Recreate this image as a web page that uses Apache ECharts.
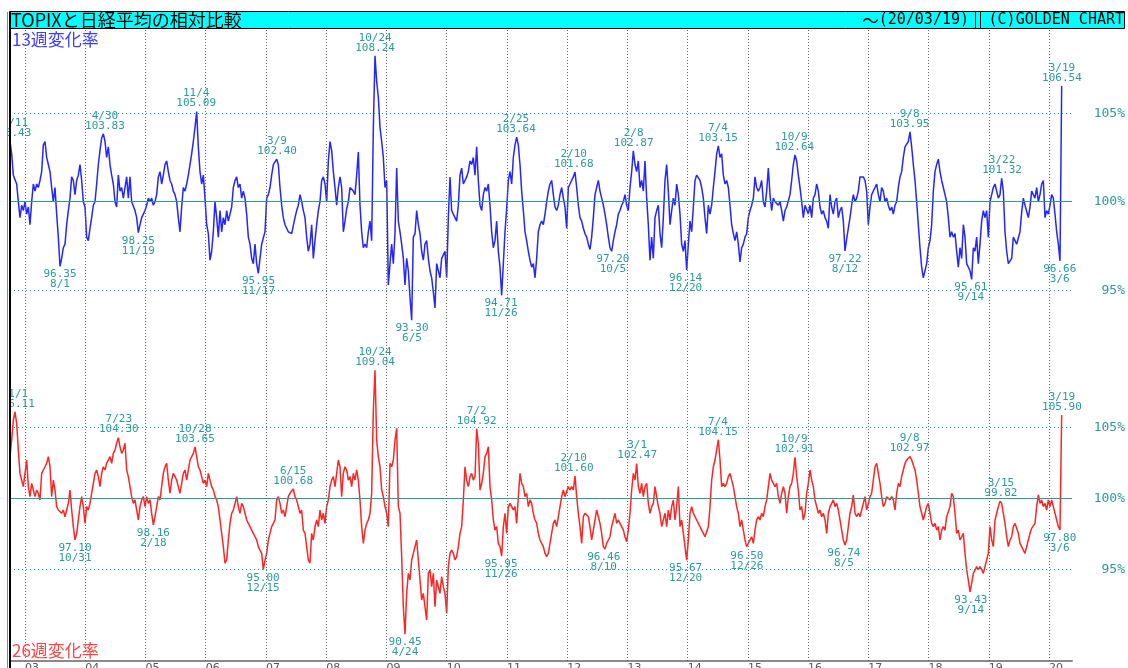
<!DOCTYPE html>
<html><head><meta charset="utf-8">
<script src="https://cdn.jsdelivr.net/npm/echarts@6/dist/echarts.min.js"></script>
<style>html,body{margin:0;padding:0;background:#fff;overflow:hidden}#c{width:1128px;height:668px}</style>
</head><body><div id="c"></div>
<script>
// sampling: first sample date (decimal year) and step between samples (~10 days)
const T0 = 2002.751;
const STEP = 0.0276671;
const X_MIN = 2002.751, X_MAX = 2020.3805;
const YEARS = [2003,2004,2005,2006,2007,2008,2009,2010,2011,2012,2013,2014,2015,2016,2017,2018,2019,2020];
const PCT_TICKS = [95,100,105];

// 13-week rate of change (%)
const TOP13_A = [
103.43,102.7,101.5,101.4,101.0,100.0,99.1,99.8,99.5,100.0,
99.3,99.7,98.7,100.0,101.0,100.6,101.0,100.8,101.2,101.7,
103.2,103.4,102.5,102.1,101.7,100.8,100.0,100.8,99.3,98.0,
96.35,96.8,97.4,97.6,98.7,99.5,100.2,101.4,101.2,100.4,
101.2,101.5,102.1,101.2,100.0,99.7,98.0,97.8,98.5,99.1,
99.8,100.0,101.0,102.1,102.9,103.6,103.83,103.4,102.5,103.1,
102.1,101.5,101.0,100.0,99.7,101.5,100.6,100.8,100.2,100.8,
101.4,100.2,101.4,100.0,100.0,99.5,99.1,98.25,98.7,99.1,
99.3,99.5,99.8,100.2,100.0,100.2,99.8,100.0,100.4,101.4,
101.7,101.0,101.5,102.1,102.3,101.7,101.2,101.0,100.6,100.4,
100.0,99.1,98.3,99.7,100.8,100.6,101.0,101.5,102.1,102.7,
103.4,104.2,105.09,103.1,101.7,101.0,101.5,100.2,98.7,98.2,
96.7,97.2,98.3,100.0,99.1,98.0,99.5,98.3,99.1,98.7,
99.5,98.9,99.3,99.7,100.8,101.2,101.4,100.8,101.0,100.2,
100.6,100.2,99.3,98.0,97.6,96.8,96.5,97.6,96.5,95.95,
96.8,97.6,97.7,98.3,100.2,100.4,100.8,101.5,102.1,102.2,
102.40,102.1,100.8,99.8,99.1,98.7,98.5,98.3,98.3];
const TOP13_B = [
98.2,98.3,99.1,99.5,99.8,100.4,100.0,99.5,99.1,98.0,
97.2,97.6,98.7,96.8,97.8,98.7,99.5,100.0,101.2,101.4,
101.0,100.0,102.3,103.4,102.9,101.7,100.8,99.8,100.8,101.4,
100.8,98.3,98.9,99.6,100.0,100.8,100.9,100.6,100.4,101.5,
102.8,99.8,98.3,97.4,97.6,97.4,98.3,98.9,97.8,104.2,
108.24,106.8,105.9,104.2,103.4,102.5,100.8,101.2,95.3,96.5,
97.6,96.5,98.2,101.9,98.9,98.3,97.6,96.8,95.3,96.8,
96.1,94.6,93.30,98.0,98.2,99.5,98.7,98.2,97.2,96.7,
97.6,97.8,96.8,96.1,95.7,94.9,94.0,96.5,96.5,95.7,
96.8,96.7,97.2,95.7,99.1,101.4,99.5,99.3,99.1,98.9,
99.8,101.5,101.9,101.0,101.2,101.4,101.7,102.3,102.1,102.5,
101.5,103.1,101.2,99.8,99.5,100.4,100.8,100.6,101.0,99.8,
98.3,97.4,97.8,98.9,97.2,96.3,94.71,96.5,98.3,99.6,
101.2,101.7,101.0,102.5,103.2,103.64,103.2,102.1,100.6,99.5,
98.3,97.8,97.2,96.7,96.3,96.5,95.7,96.8,98.3,98.7,
98.9,98.7,99.3,100.0,100.6,101.0,101.2,100.4,99.7,99.5,
99.8,100.4,100.8,100.2,99.7,98.5,100.8,101.0];
const TOP13_C = [
101.0,101.4,101.68,100.8,99.8,99.1,98.9,98.5,98.2,98.0,
97.6,97.3,98.0,99.1,100.4,100.8,101.2,100.6,100.2,99.8,
99.3,98.7,98.0,97.4,97.20,97.8,98.3,98.7,99.3,99.5,
99.8,100.0,100.4,99.8,99.5,100.8,101.7,102.87,102.1,101.7,
102.3,100.8,101.2,100.6,102.3,100.2,98.7,96.7,98.0,96.8,
99.1,99.5,99.8,98.2,97.4,99.1,101.2,102.1,100.6,98.7,
99.5,100.2,99.8,101.0,100.4,99.3,97.6,97.2,97.8,96.14,
97.6,98.9,98.3,99.7,101.2,101.5,101.4,101.2,100.8,100.2,
99.1,98.2,99.8,99.3,99.8,100.8,101.7,102.7,103.15,102.5,
102.7,101.5,101.0,101.2,100.8,99.8,98.7,98.2,97.8,98.3,
97.6,96.6,97.4,97.6,98.0,98.2,99.1,99.5,99.8,100.2,
101.4,100.8,100.6,100.8,101.2,100.0,99.7,100.6,101.9,100.4,
99.5,100.2,100.0,100.0,99.8,100.0,99.5,98.9,99.5,99.7,
99.8,100.4,101.2,102.1,102.64,102.3,101.5,100.8,100.0,99.1,
99.8,99.7,99.3,99.8,99.1,100.2,100.4,101.0,100.6,99.7,
99.3,99.5,99.1,98.9,98.5,100.4,99.7,99.3,100.0,100.2,
99.1,99.5];
const TOP13_D = [
99.7,98.9,97.22,97.9,98.5,99.1,99.8,100.4,100.0,100.2,
100.6,101.4,101.5,101.4,101.2,100.6,98.7,99.7,100.4,100.4,
100.8,101.0,100.4,100.0,100.8,100.6,100.0,100.2,99.8,99.5,
99.7,99.3,99.8,100.0,100.8,101.4,101.7,102.5,103.1,103.2,
103.4,103.95,103.1,102.1,101.2,100.0,98.7,97.4,96.3,95.7,
95.6,96.5,97.4,97.8,98.7,100.6,101.7,102.1,102.4,101.7,
101.2,100.8,100.4,100.0,99.1,98.0,98.3,98.0,98.2,97.2,
96.3,97.4,96.8,98.7,98.0,96.5,96.3,96.1,95.61,97.4,
97.2,98.0,96.5,97.6,98.9,99.5,99.1,99.5,98.0,100.0,
100.4,100.8,101.0,100.6,100.2,100.4,101.32,100.6,98.3,97.2,
96.5,96.5,96.8,98.0,97.8,97.6,97.6,98.3,99.4,100.2,
99.8,99.7,99.1,99.7,100.6,100.4,100.2,100.8,100.0,100.4,
101.0,101.2,99.1,99.5,99.3,99.8,100.4,100.2,99.3,98.3,
97.6,96.66,106.54];

// 26-week rate of change (%)
const W26_A = [
102.96,104.13,105.54,106.11,105.31,103.43,101.78,101.31,100.85,101.78,
102.72,100.85,100.14,101.08,100.61,100.14,100.61,100.38,99.91,101.78,
102.02,102.25,102.49,102.96,102.25,100.14,101.31,100.61,99.44,99.20,
99.08,98.97,99.20,98.73,99.20,99.67,100.61,99.20,98.03,97.10,
97.56,98.50,99.44,100.14,99.44,98.26,99.44,99.20,99.67,100.38,
101.08,101.78,102.02,101.55,100.85,101.78,102.25,102.02,102.49,102.72,
102.96,102.49,103.19,103.43,103.90,104.30,103.66,103.19,103.43,103.90,
102.02,101.55,100.85,100.14,99.67,99.91,99.20,98.50,99.44,99.91,
100.14,99.44,100.14,99.67,99.91,98.97,98.16,98.73,99.44,100.14,
99.91,100.85,101.78,102.25,102.49,101.31,100.38,101.31,101.78,101.55,
101.31,100.85,100.38,101.08,101.78,102.02,101.31,102.02,102.72,102.96,
103.19,103.65,102.96,102.25,102.02,101.55,101.08,101.31,100.85,101.78,
101.31,100.85,100.61,100.14,99.91,99.44,98.50,97.56,96.62,95.45,
95.68,97.09,98.26,98.97,99.20,99.67,100.14,99.44,98.97,99.67,
99.44,98.97,98.50,98.26,98.03,97.79,97.56,97.56,97.09,96.62,
96.38,96.15,95.00,95.68,96.15,97.09,97.56,98.03,98.26,98.50,
99.91,100.14,99.67,98.97,99.20,98.73,99.44,100.14,100.38];
const W26_B = [
100.49,100.68,100.14,99.91,99.44,98.97,99.20,97.79,97.56,96.62,
95.68,95.45,97.56,97.09,98.03,98.50,98.03,99.20,98.50,98.97,
98.26,99.44,99.91,100.85,101.31,101.55,100.85,101.78,102.72,102.25,
100.14,101.78,102.25,102.02,101.31,101.55,100.85,101.78,101.31,102.02,
101.31,99.91,98.03,96.85,97.79,98.26,98.50,98.97,100.38,106.24,
109.04,104.13,102.96,102.25,100.61,100.14,99.44,98.97,98.03,102.49,
102.25,102.72,104.13,104.95,99.44,98.97,95.92,92.39,90.45,93.33,
94.74,94.27,95.68,96.15,96.62,97.09,95.68,94.27,92.86,93.33,
92.39,91.45,94.74,94.98,93.80,94.74,92.39,94.27,93.80,93.33,
94.51,93.80,93.33,91.92,95.21,96.15,96.38,96.15,95.68,95.92,
96.62,97.56,98.03,99.91,102.25,101.31,100.85,101.55,101.78,101.31,
101.55,104.92,103.90,100.61,101.08,101.78,102.96,103.19,103.66,100.85,
99.91,98.50,97.79,98.03,96.85,96.62,95.95,98.03,98.97,97.56,
99.44,99.67,99.44,99.20,99.44,98.26,100.14,101.78,101.08,100.85,
100.14,100.38,99.44,99.91,99.67,98.97,98.50,98.26,97.56,97.09,
96.85,96.62,96.15,95.92,96.15,96.85,97.56,98.26,98.50,98.03,
98.73,99.44,100.14,100.61,100.14,100.14,100.85,100.61];
const W26_C = [
100.85,100.61,101.60,100.14,98.97,98.03,96.85,98.73,98.97,98.97,
98.73,98.03,97.09,97.79,98.50,99.20,98.73,98.26,97.56,96.62,
96.46,96.85,96.97,97.32,98.03,98.50,98.97,98.26,98.50,98.26,
98.03,97.79,97.32,96.97,97.79,98.97,100.61,101.78,101.31,102.47,
100.85,100.38,101.08,100.14,100.85,101.08,99.67,98.97,99.44,99.67,
100.85,100.14,99.44,98.97,98.03,98.50,98.97,98.03,99.20,98.50,
99.44,99.91,98.50,99.44,100.85,98.03,98.50,97.56,96.62,95.67,
97.09,98.97,99.44,98.97,98.73,98.50,98.26,98.03,97.79,97.56,
97.32,97.32,98.03,99.44,101.31,102.25,102.72,103.43,104.15,102.72,
100.85,101.08,100.85,101.08,101.55,101.78,101.31,100.85,100.14,99.44,
98.97,98.03,98.50,97.79,97.09,96.62,96.50,97.09,97.32,96.85,
97.79,98.50,98.73,98.50,98.97,98.73,99.44,99.91,100.85,101.78,
101.31,101.08,100.85,101.08,100.14,99.67,100.38,100.85,100.38,98.97,
100.14,100.85,101.08,101.78,102.91,101.55,100.61,99.20,99.44,98.50,
98.97,100.38,101.08,102.02,101.31,100.85,99.91,99.44,98.97,99.20,
98.73,98.97,98.50,97.56,98.97,99.44,99.67,99.91,99.44,99.67,
99.20,98.50];
const W26_D = [
97.79,97.09,96.74,97.09,98.03,98.97,99.44,100.26,98.97,98.73,
98.97,98.73,99.20,99.67,100.14,99.20,99.67,100.14,100.38,101.31,
102.25,102.49,101.78,101.08,100.14,99.44,99.67,100.14,100.14,99.91,
100.14,99.91,99.20,100.38,101.08,100.85,101.55,102.02,102.49,102.72,
102.84,102.97,102.72,102.72,102.02,101.31,100.38,99.44,98.97,98.50,
98.97,99.44,99.67,98.97,98.26,98.03,98.26,97.79,98.03,97.09,
97.79,98.03,97.79,98.73,98.73,99.44,100.38,100.14,98.97,97.56,
97.79,97.09,97.32,97.56,96.15,95.00,94.27,93.43,94.04,94.74,
94.74,95.21,94.98,95.21,94.98,94.74,95.21,95.68,96.15,98.03,
97.09,96.62,98.50,98.97,99.44,99.82,99.67,98.97,98.26,97.32,
96.62,97.09,97.32,98.03,98.26,98.26,97.56,96.85,96.62,96.38,
96.15,96.62,97.09,97.56,97.91,98.03,98.26,99.44,100.26,99.67,
99.91,99.44,99.67,99.20,99.91,99.44,99.91,99.44,98.97,98.50,
98.03,97.80,105.90];

// annotated highs / lows: [date, value, side]
const TOP13_NOTES = [
['2002/10/11',103.43,'top'],['2003/8/1',96.35,'bottom'],['2004/4/30',103.83,'top'],
['2004/11/19',98.25,'bottom'],['2005/11/4',105.09,'top'],['2006/11/17',95.95,'bottom'],
['2007/3/9',102.40,'top'],['2008/10/24',108.24,'top'],['2009/6/5',93.30,'bottom'],
['2010/11/26',94.71,'bottom'],['2011/2/25',103.64,'top'],['2012/2/10',101.68,'top'],
['2012/10/5',97.20,'bottom'],['2013/2/8',102.87,'top'],['2013/12/20',96.14,'bottom'],
['2014/7/4',103.15,'top'],['2015/10/9',102.64,'top'],['2016/8/12',97.22,'bottom'],
['2017/9/8',103.95,'top'],['2018/9/14',95.61,'bottom'],['2019/3/22',101.32,'top'],
['2020/3/6',96.66,'bottom'],['2020/3/19',106.54,'top']];
const W26_NOTES = [
['2002/11/1',106.11,'top'],['2003/10/31',97.10,'bottom'],['2004/7/23',104.30,'top'],
['2005/2/18',98.16,'bottom'],['2005/10/28',103.65,'top'],['2006/12/15',95.00,'bottom'],
['2007/6/15',100.68,'top'],['2008/10/24',109.04,'top'],['2009/4/24',90.45,'bottom'],
['2010/7/2',104.92,'top'],['2010/11/26',95.95,'bottom'],['2012/2/10',101.60,'top'],
['2012/8/10',96.46,'bottom'],['2013/3/1',102.47,'top'],['2013/12/20',95.67,'bottom'],
['2014/7/4',104.15,'top'],['2014/12/26',96.50,'bottom'],['2015/10/9',102.91,'top'],
['2016/8/5',96.74,'bottom'],['2017/9/8',102.97,'top'],['2018/9/14',93.43,'bottom'],
['2019/3/15',99.82,'top'],['2020/3/6',97.80,'bottom'],['2020/3/19',105.90,'top']];

const TOP13 = [].concat(TOP13_A, TOP13_B, TOP13_C, TOP13_D);
const W26 = [].concat(W26_A, W26_B, W26_C, W26_D);

function toPairs(arr){ return arr.map((v,i)=>[T0 + i*STEP, v]); }
function decYear(d){
  const [y,m,dd] = d.split('/').map(Number);
  const s = Date.UTC(y,0,1), e = Date.UTC(y+1,0,1), t = Date.UTC(y,m-1,dd);
  return y + (t-s)/(e-s);
}
const TEAL = '#2b9a9a';
function notes(list){
  return list.map(([d,v,side])=>{
    const md = d.split('/').slice(1).join('/');
    const val = v.toFixed(2);
    return {coord:[decYear(d), v], value:v,
      label:{position:side, formatter: side==='top' ? md+'\n'+val : val+'\n'+md}};
  });
}
function guide(){
  return {
    silent:true, animation:false, symbol:['none','none'], label:{show:false},
    emphasis:{disabled:true},
    data: [
      ...YEARS.map(y=>({xAxis:y, lineStyle:{type:[1,2], color:'#666', width:1}})),
      {yAxis:105, lineStyle:{type:[1,3], color:TEAL, width:1}},
      {yAxis:95, lineStyle:{type:[1,3], color:TEAL, width:1}},
      {yAxis:100, lineStyle:{type:'solid', color:TEAL, width:1}}
    ]
  };
}
function mark(list){
  return {
    silent:true, animation:false, symbol:'circle', symbolSize:0,
    itemStyle:{color:'transparent'},
    label:{show:true, distance:3, color:TEAL, fontFamily:'DejaVu Sans Mono', fontSize:11, lineHeight:10, align:'center'},
    data: notes(list)
  };
}
const yLabel = {customValues:PCT_TICKS, formatter:'{value}%', color:TEAL, fontFamily:'DejaVu Sans Mono', fontSize:13, align:'right', margin:53};

const chart = echarts.init(document.getElementById('c'), null, {renderer:'canvas'});
chart.setOption({
  animation:false,
  backgroundColor:'#fff',
  grid:[
    {left:10, top:29, width:1062, height:311, containLabel:false, outerBoundsMode:'none'},
    {left:10, top:340, width:1062, height:321, containLabel:false, outerBoundsMode:'none'}
  ],
  xAxis:[
    {gridIndex:0, type:'value', min:X_MIN, max:X_MAX, axisLine:{show:false}, axisTick:{show:false}, axisLabel:{show:false}, splitLine:{show:false}},
    {gridIndex:1, type:'value', min:X_MIN, max:X_MAX, axisLine:{show:true, onZero:false, lineStyle:{color:'#8a8a8a', width:2}},
     axisTick:{show:false}, splitLine:{show:false},
     axisLabel:{customValues:YEARS, formatter:v=>String(Math.round(v)%100).padStart(2,'0'), align:'left', margin:2, color:'#555', fontFamily:'DejaVu Sans', fontSize:11}}
  ],
  yAxis:[
    {gridIndex:0, type:'value', position:'right', min:92.13 + (29-28)/17.7, max:109.757, axisLine:{show:false}, axisTick:{show:false}, splitLine:{show:false}, axisLabel:yLabel},
    {gridIndex:1, type:'value', position:'right', min:88.568, max:111.174, axisLine:{show:false}, axisTick:{show:false}, splitLine:{show:false}, axisLabel:yLabel}
  ],
  series:[
    {type:'line', xAxisIndex:0, yAxisIndex:0, data:toPairs(TOP13), showSymbol:false, symbol:'none',
     lineStyle:{color:'#2525ff', width:1.5}, markLine:guide(), markPoint:mark(TOP13_NOTES), z:3},
    {type:'line', xAxisIndex:1, yAxisIndex:1, data:toPairs(W26), showSymbol:false, symbol:'none',
     lineStyle:{color:'#ff2525', width:1.5}, markLine:guide(), markPoint:mark(W26_NOTES), z:3}
  ],
  graphic:[
    {type:'rect', z:100, shape:{x:0, y:29, width:8, height:640}, style:{fill:'#fff'}},
    {type:'rect', z:100, shape:{x:9.5, y:11.5, width:1115, height:17}, style:{fill:'#00ffff', stroke:'#000', lineWidth:1}},
    {type:'text', z:101, x:11, y:20.5, style:{text:'TOPIXと日経平均の相対比較', font:'18px "Noto Sans CJK JP"', fill:'#000', verticalAlign:'middle'}},
    {type:'text', z:101, x:879, y:20.5, style:{text:'～', font:'17px "Noto Sans CJK JP"', fill:'#000', align:'right', verticalAlign:'middle'}},
    {type:'text', z:101, x:969, y:20.5, style:{text:'(20/03/19)', font:'15px "DejaVu Sans Mono"', fill:'#000', align:'right', verticalAlign:'middle'}},
    {type:'line', z:101, shape:{x1:975.5, y1:12, x2:975.5, y2:28}, style:{stroke:'#000', lineWidth:1}},
    {type:'line', z:101, shape:{x1:980.5, y1:12, x2:980.5, y2:28}, style:{stroke:'#000', lineWidth:1}},
    {type:'text', z:101, x:1124, y:20.5, style:{text:'(C)GOLDEN CHART', font:'15px "DejaVu Sans Mono"', fill:'#000', align:'right', verticalAlign:'middle'}},
    {type:'text', z:101, x:12, y:31, style:{text:'13週変化率', font:'17px "Noto Sans CJK JP"', fill:'#3c3cff'}},
    {type:'text', z:101, x:12, y:642, style:{text:'26週変化率', font:'17px "Noto Sans CJK JP"', fill:'#ff4444'}},
    {type:'line', z:101, shape:{x1:7.5, y1:12, x2:7.5, y2:668}, style:{stroke:'#888', lineWidth:1}},
    {type:'line', z:101, shape:{x1:10, y1:12, x2:10, y2:668}, style:{stroke:'#000', lineWidth:2}}
  ]
});
</script>
</body></html>
